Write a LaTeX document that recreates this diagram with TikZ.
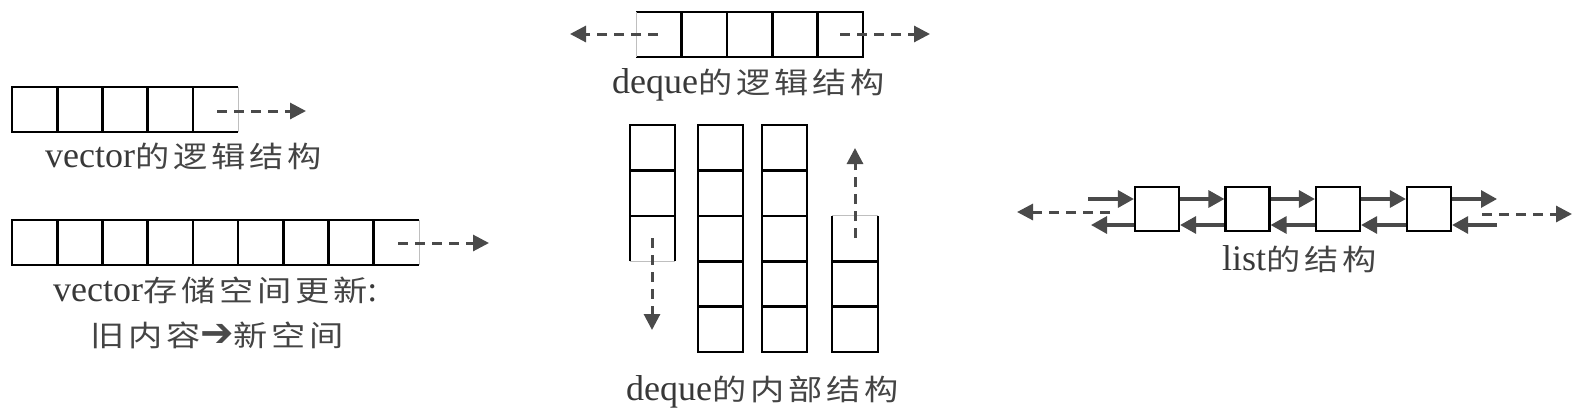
\documentclass[tikz,border=0pt]{standalone}
\usepackage{fontspec}
\setmainfont{Liberation Serif}
\newfontfamily\cjk[FakeStretch=1.18,LetterSpace=13]{Noto Sans CJK SC}
\newfontfamily\sym{DejaVu Sans}
\usetikzlibrary{arrows.meta}
\definecolor{agray}{HTML}{4A4A4A}
\definecolor{tgray}{HTML}{383838}
\definecolor{cgray}{HTML}{444444}
\tikzset{
  cellline/.style={line width=2.6pt, draw=black},
  faint/.style={line width=1pt, draw=black!25},
  arr/.style={-{Triangle[length=16pt,width=16pt]}, line width=3pt, draw=agray},
  darr/.style={arr, dash pattern=on 10pt off 7pt},
  larr/.style={-{Triangle[length=16pt,width=17pt]}, line width=3.2pt, draw=agray},
  lbox/.style={draw=black, line width=2.2pt, minimum width=44pt, minimum height=44pt, inner sep=0pt, fill=white},
  lab/.style={text=tgray, inner sep=0pt, anchor=base west, font=\fontsize{36}{40}\selectfont}
}
\newcommand{\zh}[1]{{\color{cgray}\fontsize{29}{32}\cjk #1}}
\newcommand{\bigarrow}{{\color{agray}\fontsize{40}{40}\sym ➔}}
\begin{document}
\begin{tikzpicture}[x=1pt,y=-1pt]
\useasboundingbox (0,0) rectangle (1585,413);
% ---------- vector logical ----------
\draw[cellline] (238,87) -- (12,87) -- (12,132) -- (238,132);
\foreach \i in {1,...,4} \draw[cellline] ({12+45.2*\i},87) -- ({12+45.2*\i},132);
\draw[faint] (238,87) -- (238,132);
\coordinate (v1a) at (217,111);
\coordinate (v1b) at (306,111);
\draw[darr] (v1a) -- (v1b);
\node[lab] (lv1) at (45,167) {vector\zh{的逻辑结构}};
% ---------- vector storage ----------
\draw[cellline] (419,220) -- (12,220) -- (12,265) -- (419,265);
\foreach \i in {1,...,8} \draw[cellline] ({12+45.2*\i},220) -- ({12+45.2*\i},265);
\draw[faint] (419,220) -- (419,265);
\coordinate (v2a) at (398,243);
\coordinate (v2b) at (489,243);
\draw[darr] (v2a) -- (v2b);
\node[lab] (lv2) at (53,301) {vector\zh{存储空间更新}:};
\node[lab] (lv3) at (90,346) {\zh{旧内容}\bigarrow\zh{新空间}};
% ---------- deque logical ----------
\draw[cellline] (636,12) -- (863,12) -- (863,57) -- (636,57);
\foreach \i in {1,...,4} \draw[cellline] ({636+45.4*\i},12) -- ({636+45.4*\i},57);
\draw[faint] (636,12) -- (636,57);
\coordinate (dla) at (658,34);
\coordinate (dlb) at (570,34);
\draw[darr] (dla) -- (dlb);
\coordinate (dra) at (840,34);
\coordinate (drb) at (930,34);
\draw[darr] (dra) -- (drb);
\node[lab] (ld1) at (612,93) {deque\zh{的逻辑结构}};
% ---------- deque internal ----------
% column 1
\draw[cellline] (630,261.2) -- (630,125) -- (675,125) -- (675,261.2);
\draw[cellline] (630,170.4) -- (675,170.4);
\draw[cellline] (630,215.8) -- (675,215.8);
\draw[faint] (630,261.2) -- (675,261.2);
% columns 2 and 3
\foreach \x in {698,762} {
  \draw[cellline] (\x,125) rectangle ({\x+45},352);
  \foreach \j in {1,...,4} \draw[cellline] (\x,{125+45.4*\j}) -- ({\x+45},{125+45.4*\j});
}
% column 4
\draw[cellline] (832,215.8) -- (832,352) -- (878,352) -- (878,215.8);
\draw[cellline] (832,261.2) -- (878,261.2);
\draw[cellline] (832,306.6) -- (878,306.6);
\draw[faint] (832,215.8) -- (878,215.8);
\coordinate (dda) at (652,238);
\coordinate (ddb) at (652,330);
\draw[darr] (dda) -- (ddb);
\coordinate (dua) at (855,238);
\coordinate (dub) at (855,148);
\draw[darr] (dua) -- (dub);
\node[lab] (ld2) at (626,400) {deque\zh{的内部结构}};
% ---------- list ----------
\node[lbox] (b1) at (1157,209) {};
\node[lbox] (b2) at (1247.5,209) {};
\node[lbox] (b3) at (1338,209) {};
\node[lbox] (b4) at (1429,209) {};
\coordinate (lin) at (1088,199);
\coordinate (lout) at (1091,225);
\coordinate (rout) at (1497,199);
\coordinate (rin) at (1497,225);
\draw[larr] (lin) -- ([yshift=10pt]b1.west);
\draw[larr] ([yshift=-16pt]b1.west) -- (lout);
\draw[larr] ([yshift=10pt]b1.east) -- ([yshift=10pt]b2.west);
\draw[larr] ([yshift=-16pt]b2.west) -- ([yshift=-16pt]b1.east);
\draw[larr] ([yshift=10pt]b2.east) -- ([yshift=10pt]b3.west);
\draw[larr] ([yshift=-16pt]b3.west) -- ([yshift=-16pt]b2.east);
\draw[larr] ([yshift=10pt]b3.east) -- ([yshift=10pt]b4.west);
\draw[larr] ([yshift=-16pt]b4.west) -- ([yshift=-16pt]b3.east);
\draw[larr] ([yshift=10pt]b4.east) -- (rout);
\draw[larr] (rin) -- ([yshift=-16pt]b4.east);
\coordinate (lda) at (1110,212);
\coordinate (ldb) at (1017,212);
\draw[darr] (lda) -- (ldb);
\coordinate (rda) at (1482,214);
\coordinate (rdb) at (1572,214);
\draw[darr] (rda) -- (rdb);
\node[lab] (ll) at (1222,270) {list\zh{的结构}};
\end{tikzpicture}
\end{document}
